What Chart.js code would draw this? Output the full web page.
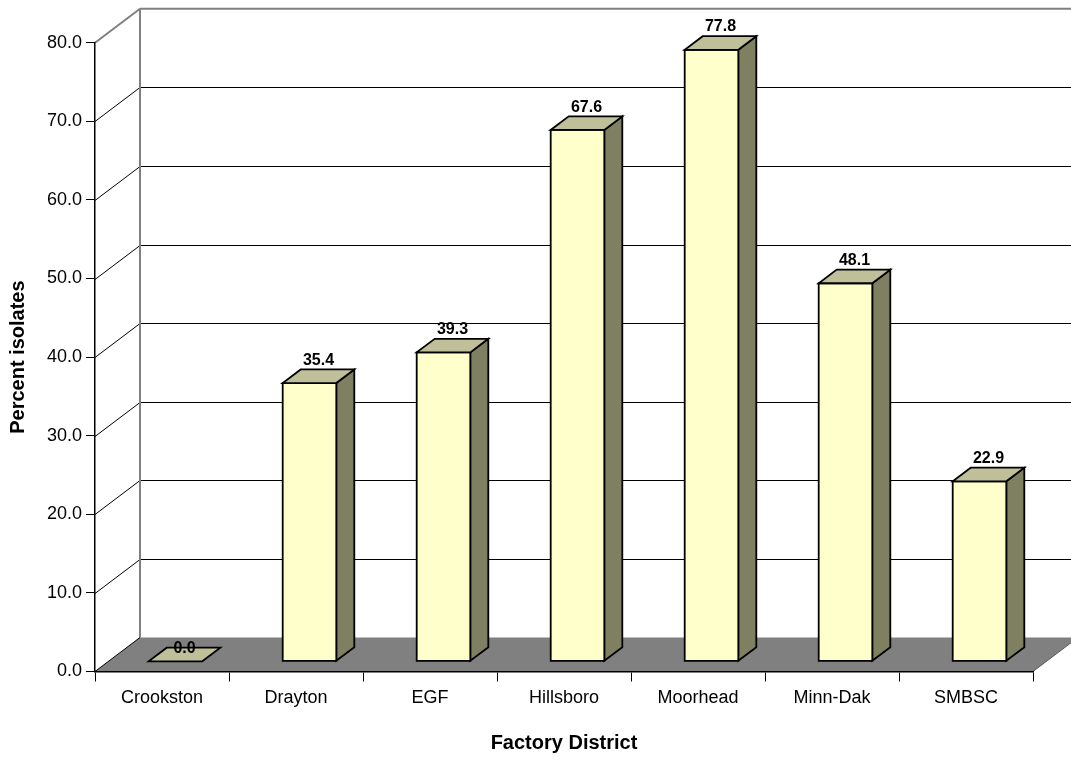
<!DOCTYPE html>
<html>
<head>
<meta charset="utf-8">
<title>Percent isolates by factory district</title>
<script src="https://cdn.jsdelivr.net/npm/chart.js@4/dist/chart.umd.min.js"></script>
<style>
  html, body { margin: 0; padding: 0; background: #ffffff; }
  #wrap { width: 1071px; height: 757px; }
</style>
</head>
<body>
<div id="wrap"><canvas id="chart" width="1071" height="757"></canvas></div>
<script>
// Factory districts and the percent of isolates found in each
const districts = ['Crookston', 'Drayton', 'EGF', 'Hillsboro', 'Moorhead', 'Minn-Dak', 'SMBSC'];
const percentIsolates = [0.0, 35.4, 39.3, 67.6, 77.8, 48.1, 22.9];

// Value axis
const yMin = 0;
const yMax = 80;
const yStep = 10;

const FONT = "'Liberation Sans', Arial, Helvetica, sans-serif";

// Depth of the 3-D box (screen offset from the front plane to the back wall)
const DEPTH_X = 45;
const DEPTH_Y = -34;
// Bars occupy the middle of the depth, from 30% to 70%
const BAR_FRONT = 0.3;
const BAR_BACK = 0.7;

const COLORS = {
  front: '#FFFFCC',
  top: '#BFBF99',
  side: '#7F7F62',
  floor: '#808080',
  wallEdge: '#808080',
  grid: '#000000'
};

function poly(ctx, pts, fill, stroke, lw) {
  ctx.beginPath();
  ctx.moveTo(pts[0][0], pts[0][1]);
  for (let i = 1; i < pts.length; i++) ctx.lineTo(pts[i][0], pts[i][1]);
  ctx.closePath();
  if (fill) { ctx.fillStyle = fill; ctx.fill(); }
  if (stroke) { ctx.strokeStyle = stroke; ctx.lineWidth = lw || 1; ctx.stroke(); }
}

function line(ctx, x1, y1, x2, y2, color, lw) {
  ctx.beginPath();
  ctx.moveTo(x1, y1);
  ctx.lineTo(x2, y2);
  ctx.strokeStyle = color;
  ctx.lineWidth = lw || 1;
  ctx.stroke();
}

// Walls, gridlines and floor of the 3-D box, drawn behind the axes
const box3d = {
  id: 'box3d',
  beforeDraw(chart) {
    const ctx = chart.ctx;
    const y = chart.scales.y;
    const area = chart.chartArea;
    const L = area.left, R = area.right;
    const y0 = y.getPixelForValue(yMin);
    const yTop = y.getPixelForValue(yMax);
    ctx.save();

    // gridlines on side wall and back wall
    for (let v = yMin + yStep; v < yMax; v += yStep) {
      const py = Math.round(y.getPixelForValue(v)) + 0.5;
      line(ctx, L, py, L + DEPTH_X, py + DEPTH_Y, COLORS.grid, 1);
      line(ctx, L + DEPTH_X, py + DEPTH_Y, R + DEPTH_X, py + DEPTH_Y, COLORS.grid, 1);
    }

    // wall outlines
    line(ctx, L, yTop, L + DEPTH_X, yTop + DEPTH_Y, COLORS.wallEdge, 2);
    line(ctx, L + DEPTH_X, yTop + DEPTH_Y, R + DEPTH_X, yTop + DEPTH_Y, COLORS.wallEdge, 2);
    line(ctx, L + DEPTH_X, yTop + DEPTH_Y, L + DEPTH_X, y0 + DEPTH_Y, COLORS.wallEdge, 2);
    line(ctx, R + DEPTH_X, yTop + DEPTH_Y, R + DEPTH_X, y0 + DEPTH_Y, COLORS.wallEdge, 2);

    // floor
    poly(ctx, [[L, y0], [R, y0], [R + DEPTH_X, y0 + DEPTH_Y], [L + DEPTH_X, y0 + DEPTH_Y]],
      COLORS.floor, null);
    line(ctx, R, y0, R + DEPTH_X, y0 + DEPTH_Y, '#5a5a5a', 1);
    line(ctx, L, y0, L + DEPTH_X, y0 + DEPTH_Y, '#000000', 1);
    ctx.restore();
  }
};

// 3-D bars and their value labels, built on the bar elements' positions
const bars3d = {
  id: 'bars3d',
  afterDatasetsDraw(chart) {
    const ctx = chart.ctx;
    const meta = chart.getDatasetMeta(0);
    const values = chart.data.datasets[0].data;
    const fx = DEPTH_X * BAR_FRONT, fy = DEPTH_Y * BAR_FRONT;
    const dx = DEPTH_X * (BAR_BACK - BAR_FRONT), dy = DEPTH_Y * (BAR_BACK - BAR_FRONT);
    ctx.save();
    ctx.lineJoin = 'miter';
    meta.data.forEach((bar, i) => {
      const p = bar.getProps(['x', 'y', 'base', 'width'], true);
      const x1 = p.x - p.width / 2 + fx;
      const x2 = p.x + p.width / 2 + fx;
      const yt = p.y + fy;
      const yb = p.base + fy;
      const lw = 1.8;

      if (values[i] > 0) {
        // right side face
        poly(ctx, [[x2, yt], [x2 + dx, yt + dy], [x2 + dx, yb + dy], [x2, yb]], COLORS.side, '#000', lw);
        // front face
        poly(ctx, [[x1, yt], [x2, yt], [x2, yb], [x1, yb]], COLORS.front, '#000', lw);
      }
      // top face
      poly(ctx, [[x1, yt], [x2, yt], [x2 + dx, yt + dy], [x1 + dx, yt + dy]], COLORS.top, '#000', lw);

      // value label above the middle of the top face
      const cx = (x1 + x2) / 2 + dx / 2;
      const cy = yt + dy / 2;
      ctx.fillStyle = '#000';
      ctx.font = 'bold 16px ' + FONT;
      ctx.textAlign = 'center';
      ctx.textBaseline = 'alphabetic';
      ctx.fillText(values[i].toFixed(1), cx, cy - (values[i] > 0 ? 11.5 : 1.5));
    });
    ctx.restore();
  }
};

new Chart(document.getElementById('chart'), {
  type: 'bar',
  data: {
    labels: districts,
    datasets: [{
      label: 'Percent isolates',
      data: percentIsolates,
      backgroundColor: 'rgba(0,0,0,0)',
      borderWidth: 0,
      categoryPercentage: 1.0,
      barPercentage: 0.4
    }]
  },
  options: {
    responsive: false,
    animation: false,
    events: [],
    layout: { padding: { top: 42.7, right: 38, left: 0, bottom: 0 } },
    plugins: {
      legend: { display: false },
      tooltip: { enabled: false }
    },
    scales: {
      x: {
        offset: true,
        grid: {
          offset: true,
          drawOnChartArea: false,
          drawTicks: true,
          tickLength: 10,
          color: '#000',
          lineWidth: 1
        },
        border: { display: true, color: '#000', width: 1.5 },
        ticks: {
          color: '#000',
          padding: 6,
          maxRotation: 0,
          autoSkip: false,
          font: { family: FONT, size: 18 }
        },
        title: {
          display: true,
          text: 'Factory District',
          color: '#000',
          font: { family: FONT, size: 20, weight: 'bold' },
          padding: { top: 0, bottom: 2 }
        },
        afterFit(scale) { scale.height = 85.5; }
      },
      y: {
        min: yMin,
        max: yMax,
        grid: {
          drawOnChartArea: false,
          drawTicks: true,
          tickLength: 9,
          color: '#000',
          lineWidth: 1
        },
        border: { display: true, color: '#000', width: 1.5 },
        ticks: {
          stepSize: yStep,
          color: '#000',
          padding: 4,
          font: { family: FONT, size: 18 },
          callback: (v) => Number(v).toFixed(1)
        },
        title: {
          display: true,
          text: 'Percent isolates',
          color: '#000',
          font: { family: FONT, size: 20, weight: 'bold' },
          padding: { top: 6, bottom: 0 }
        },
        afterFit(scale) { scale.width = 95; }
      }
    }
  },
  plugins: [box3d, bars3d]
});
</script>
</body>
</html>
